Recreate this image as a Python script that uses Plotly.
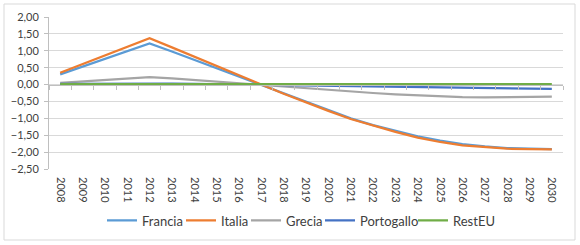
import plotly.graph_objects as go

years = [str(y) for y in range(2008, 2031)]
francia = [0.30, 0.53, 0.76, 0.99, 1.22, 0.98, 0.73, 0.49, 0.24, 0.00,
           -0.25, -0.50, -0.75, -1.00, -1.20, -1.37, -1.53, -1.66, -1.76, -1.83, -1.88, -1.90, -1.91]
italia = [0.35, 0.61, 0.86, 1.12, 1.37, 1.10, 0.82, 0.55, 0.27, 0.00,
          -0.27, -0.53, -0.78, -1.02, -1.22, -1.40, -1.57, -1.70, -1.80, -1.86, -1.90, -1.91, -1.92]
grecia = [0.05, 0.09, 0.13, 0.18, 0.22, 0.18, 0.13, 0.09, 0.04, 0.00,
          -0.05, -0.10, -0.15, -0.20, -0.25, -0.29, -0.32, -0.35, -0.37, -0.38, -0.37, -0.36, -0.36]
portogallo = [0.02, 0.025, 0.03, 0.035, 0.04, 0.03, 0.02, 0.01, 0.005, 0.00,
              -0.01, -0.02, -0.03, -0.04, -0.05, -0.06, -0.07, -0.08, -0.09, -0.10, -0.11, -0.12, -0.13]
resteu = [0.01] * 23

series = [("Francia", francia, "#5B9BD5"),
          ("Italia", italia, "#ED7D31"),
          ("Grecia", grecia, "#A5A5A5"),
          ("Portogallo", portogallo, "#4472C4"),
          ("RestEU", resteu, "#70AD47")]

# left edge (px) of each legend entry's line sample
legend_px = [105, 184, 249, 323, 416]

y_min, y_max = -2.5, 2.0
txt = "#404040"
font_family = "Lato, 'Open Sans', sans-serif"

fig = go.Figure()
legends = {}
for i, (name, vals, col) in enumerate(series):
    key = "legend" if i == 0 else f"legend{i + 1}"
    fig.add_trace(go.Scatter(x=years, y=vals, name=name, mode="lines",
                             line=dict(color=col, width=2.25), legend=key))
    legends[key] = dict(orientation="h", xref="container", x=(legend_px[i] - 3) / 580,
                        xanchor="left", yref="container", y=0.10, yanchor="middle",
                        itemwidth=30, bgcolor="rgba(0,0,0,0)",
                        font=dict(size=13, color=txt))

# invisible helper trace on a second x axis drawn along the zero line (category tick marks)
fig.add_trace(go.Scatter(x=years, y=[None] * len(years), xaxis="x2", showlegend=False,
                         hoverinfo="skip", mode="lines"))

fig.update_layout(
    width=580, height=245,
    margin=dict(l=49, r=17, t=17, b=76, autoexpand=False),
    paper_bgcolor="white", plot_bgcolor="white",
    separators=",.",
    font=dict(family=font_family, size=11, color=txt),
    showlegend=True,
    xaxis=dict(type="category", tickangle=90, showgrid=False, showline=False,
               range=[-0.5, 22.5], ticks="", ticklabelstandoff=7, automargin=False,
               tickfont=dict(size=11, color=txt)),
    xaxis2=dict(type="category", overlaying="x", anchor="free",
                position=(0 - y_min) / (y_max - y_min), range=[-0.5, 22.5],
                showline=True, linecolor="#BFBFBF", linewidth=1,
                ticks="outside", tickson="boundaries", ticklen=4, tickcolor="#BFBFBF",
                showticklabels=False, showgrid=False, side="bottom", automargin=False),
    yaxis=dict(range=[y_min, y_max], dtick=0.5, tick0=-2.5, tickformat=".2f",
               showgrid=True, gridcolor="#D9D9D9", gridwidth=1,
               zeroline=False, automargin=False,
               showline=True, linecolor="#BFBFBF", linewidth=1,
               ticks="outside", ticklen=4, tickcolor="#BFBFBF", ticklabelstandoff=3,
               tickfont=dict(size=11, color=txt)),
    shapes=[dict(type="rect", xref="paper", yref="paper",
                 x0=(4 - 49) / 514, x1=(575 - 49) / 514,
                 y0=(169 - 240) / 152, y1=(169 - 4) / 152,
                 line=dict(color="#D9D9D9", width=1), layer="below")],
    **legends,
)
fig.write_html("out.html")
